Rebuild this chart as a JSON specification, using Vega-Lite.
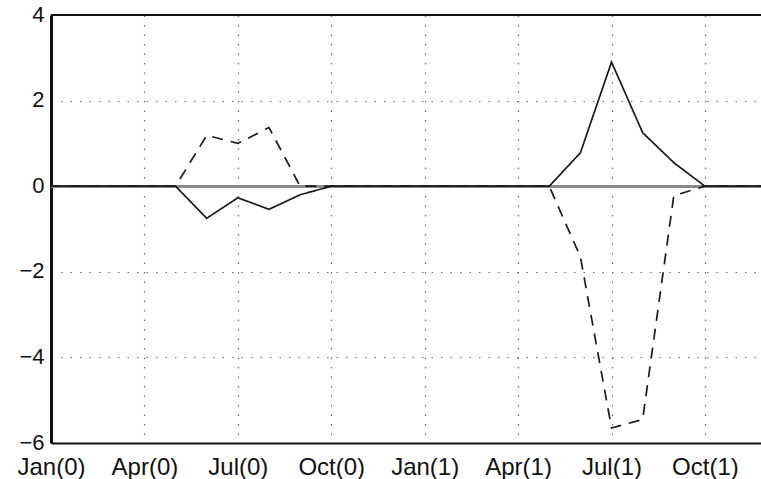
{
  "$schema": "https://vega.github.io/schema/vega-lite/v6.json",
  "width": 710,
  "height": 428,
  "autosize": {"type": "none"},
  "padding": {"left": 51, "top": 15, "right": 0, "bottom": 36},
  "background": "white",
  "config": {
    "view": {"stroke": null},
    "axis": {
      "labelFont": "Liberation Sans",
      "labelFontSize": 24,
      "labelColor": "#111111",
      "grid": true,
      "gridColor": "#6a6a6a",
      "gridDash": [1.5, 8],
      "gridWidth": 1.2,
      "domainColor": "#111111",
      "ticks": false,
      "title": null,
      "labelOverlap": false,
      "labelBound": false,
      "labelFlush": false
    }
  },
  "data": {
    "values": [
      {"m": 0, "v": 0, "s": "solid"}, {"m": 1, "v": 0, "s": "solid"}, {"m": 2, "v": 0, "s": "solid"}, {"m": 3, "v": 0, "s": "solid"},
      {"m": 4, "v": 0, "s": "solid"}, {"m": 5, "v": -0.75, "s": "solid"}, {"m": 6, "v": -0.27, "s": "solid"}, {"m": 7, "v": -0.54, "s": "solid"},
      {"m": 8, "v": -0.2, "s": "solid"}, {"m": 9, "v": 0, "s": "solid"}, {"m": 10, "v": 0, "s": "solid"}, {"m": 11, "v": 0, "s": "solid"},
      {"m": 12, "v": 0, "s": "solid"}, {"m": 13, "v": 0, "s": "solid"}, {"m": 14, "v": 0, "s": "solid"}, {"m": 15, "v": 0, "s": "solid"},
      {"m": 16, "v": 0, "s": "solid"}, {"m": 17, "v": 0.78, "s": "solid"}, {"m": 18, "v": 2.9, "s": "solid"}, {"m": 19, "v": 1.25, "s": "solid"},
      {"m": 20, "v": 0.55, "s": "solid"}, {"m": 21, "v": 0, "s": "solid"}, {"m": 22, "v": 0, "s": "solid"}, {"m": 23, "v": 0, "s": "solid"},
      {"m": 0, "v": 0, "s": "dashed"}, {"m": 1, "v": 0, "s": "dashed"}, {"m": 2, "v": 0, "s": "dashed"}, {"m": 3, "v": 0, "s": "dashed"},
      {"m": 4, "v": 0, "s": "dashed"}, {"m": 5, "v": 1.19, "s": "dashed"}, {"m": 6, "v": 1.0, "s": "dashed"}, {"m": 7, "v": 1.37, "s": "dashed"},
      {"m": 8, "v": 0, "s": "dashed"}, {"m": 9, "v": 0, "s": "dashed"}, {"m": 10, "v": 0, "s": "dashed"}, {"m": 11, "v": 0, "s": "dashed"},
      {"m": 12, "v": 0, "s": "dashed"}, {"m": 13, "v": 0, "s": "dashed"}, {"m": 14, "v": 0, "s": "dashed"}, {"m": 15, "v": 0, "s": "dashed"},
      {"m": 16, "v": 0, "s": "dashed"}, {"m": 17, "v": -1.65, "s": "dashed"}, {"m": 18, "v": -5.65, "s": "dashed"}, {"m": 19, "v": -5.45, "s": "dashed"},
      {"m": 20, "v": -0.22, "s": "dashed"}, {"m": 21, "v": 0, "s": "dashed"}, {"m": 22, "v": 0, "s": "dashed"}, {"m": 23, "v": 0, "s": "dashed"}
    ]
  },
  "layer": [
    {
      "mark": {"type": "rule", "color": "#8a8a8a", "strokeWidth": 2.2},
      "encoding": {"y": {"datum": 0, "type": "quantitative"}}
    },
    {
      "mark": {"type": "line", "color": "#1a1a1a", "strokeWidth": 1.7, "clip": true},
      "encoding": {
        "x": {
          "field": "m",
          "type": "quantitative",
          "scale": {"domain": [0, 22.8], "nice": false, "zero": false},
          "axis": {
            "values": [0, 3, 6, 9, 12, 15, 18, 21],
            "labelExpr": "['Jan','Apr','Jul','Oct'][(datum.value/3) % 4] + '(' + floor(datum.value/12) + ')'",
            "labelPadding": 12,
            "domainWidth": 2
          }
        },
        "y": {
          "field": "v",
          "type": "quantitative",
          "scale": {"domain": [-6, 4], "nice": false, "zero": false},
          "axis": {
            "values": [-6, -4, -2, 0, 2, 4],
            "labelPadding": 7,
            "labelFontSize": 22,
            "labelOffset": -1,
            "domainWidth": 3
          }
        },
        "detail": {"field": "s"},
        "strokeDash": {
          "field": "s",
          "type": "nominal",
          "scale": {"domain": ["solid", "dashed"], "range": [[1, 0], [11, 8]]},
          "legend": null
        }
      }
    },
    {
      "mark": {"type": "rule", "color": "#111111", "strokeWidth": 2},
      "encoding": {"y": {"datum": 4, "type": "quantitative"}}
    }
  ]
}
